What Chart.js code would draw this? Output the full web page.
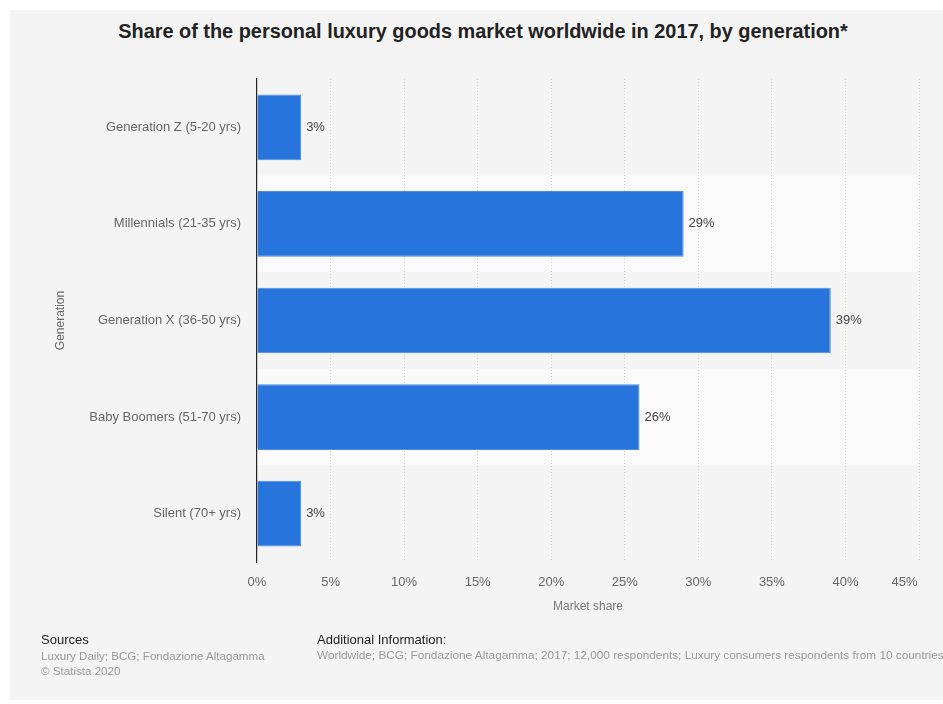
<!DOCTYPE html>
<html>
<head>
<meta charset="utf-8">
<script src="https://cdn.jsdelivr.net/npm/chart.js@4.4.0/dist/chart.umd.min.js"></script>
<style>
  body { margin: 0; background: #fff; font-family: "Liberation Sans", Arial, sans-serif; overflow: hidden; }
  #panel { position: absolute; left: 10px; top: 10px; width: 933px; height: 690px; background: #f4f4f4; }
  #wrap { position: absolute; left: 0; top: 0; width: 943px; height: 704px; }
  #title { position: absolute; left: 0; top: 20px; width: 966px; text-align: center; font-size: 19.9px; font-weight: bold; color: #222; white-space: nowrap; }
  .foot { position: absolute; white-space: nowrap; }
  .foot h4 { margin: 0; font-weight: normal; font-size: 13px; color: #222; line-height: 16px; }
  .foot p { margin: 0; font-size: 11.6px; color: #999; line-height: 15px; }
</style>
</head>
<body>
<div id="panel"></div>
<div id="title">Share of the personal luxury goods market worldwide in 2017, by generation*</div>
<div id="wrap"><canvas id="myChart" width="943" height="704"></canvas></div>
<div class="foot" style="left:41px; top:632px;">
  <h4>Sources</h4>
  <p>Luxury Daily; BCG; Fondazione Altagamma</p>
  <p>© Statista 2020</p>
</div>
<div class="foot" style="left:317px; top:632px;">
  <h4>Additional Information:</h4>
  <p style="font-size:11.8px">Worldwide; BCG; Fondazione Altagamma; 2017; 12,000 respondents; Luxury consumers respondents from 10 countries</p>
</div>
<script>
const generations = [
    'Generation Z (5-20 yrs)',
    'Millennials (21-35 yrs)',
    'Generation X (36-50 yrs)',
    'Baby Boomers (51-70 yrs)',
    'Silent (70+ yrs)'
];
const marketShare = [3, 29, 39, 26, 3];
const shareTicks = [0, 5, 10, 15, 20, 25, 30, 35, 40, 45];

const ctx = document.querySelector('#myChart');

// light stripes behind every second row
const rowBands = {
    id: 'rowBands',
    beforeDraw(chart) {
        const { ctx, chartArea, scales } = chart;
        const y = scales.y;
        ctx.save();
        ctx.fillStyle = '#fafafa';
        for (let i = 1; i < generations.length; i += 2) {
            const top = y.getPixelForValue(i - 0.5);
            const bottom = y.getPixelForValue(i + 0.5);
            ctx.fillRect(chartArea.left, top, chartArea.right - chartArea.left, bottom - top);
        }
        ctx.restore();
    }
};

// value labels at the end of each bar
const barLabels = {
    id: 'barLabels',
    afterDatasetsDraw(chart) {
        const { ctx } = chart;
        const meta = chart.getDatasetMeta(0);
        ctx.save();
        ctx.font = '13px "Liberation Sans", Arial, sans-serif';
        ctx.fillStyle = '#444';
        ctx.textAlign = 'left';
        ctx.textBaseline = 'middle';
        meta.data.forEach((bar, i) => {
            ctx.fillText(marketShare[i] + '%', bar.x + 5, bar.y);
        });
        ctx.restore();
    }
};

new Chart(ctx, {
    type: 'bar',
    data: {
        labels: generations,
        datasets: [{
            data: marketShare,
            backgroundColor: '#2775dc',
            borderColor: '#4a8ce2',
            borderWidth: 1,
            categoryPercentage: 1,
            barPercentage: 0.68
        }]
    },
    options: {
        indexAxis: 'y',
        responsive: false,
        animation: false,
        layout: { padding: { left: 10, top: 79, right: 24, bottom: 74 } },
        plugins: {
            legend: { display: false },
            tooltip: { enabled: false }
        },
        scales: {
            x: {
                min: 0,
                max: 45,
                afterBuildTicks(scale) {
                    scale.ticks = shareTicks.map(v => ({ value: v }));
                },
                afterFit(scale) {
                    scale.height = 68;
                    scale.paddingLeft = 0;
                    scale.paddingRight = 0;
                },
                ticks: {
                    color: '#666',
                    padding: 13,
                    font: { family: '"Liberation Sans", Arial, sans-serif', size: 13 },
                    // last label is pulled in a little from the edge
                    callback: v => v === shareTicks[shareTicks.length - 1]
                        ? v + '%' + '\u00a0'.repeat(8)
                        : v + '%'
                },
                grid: {
                    color: c => c.index === 0 ? 'rgba(0,0,0,0)' : '#d2d2d2',
                    drawTicks: false
                },
                border: { display: false, dash: [1, 2] },
                title: {
                    display: true,
                    text: 'Market share',
                    color: '#777',
                    font: { family: '"Liberation Sans", Arial, sans-serif', size: 12 },
                    padding: { top: 4, bottom: 16 }
                }
            },
            y: {
                afterFit(scale) { scale.width = 247; },
                ticks: {
                    color: '#666',
                    padding: 16,
                    font: { family: '"Liberation Sans", Arial, sans-serif', size: 13 }
                },
                grid: { display: false, drawTicks: false },
                border: { display: true, color: '#222', width: 1.2 },
                title: {
                    display: true,
                    text: 'Generation',
                    color: '#666',
                    font: { family: '"Liberation Sans", Arial, sans-serif', size: 12 },
                    padding: { top: 43, bottom: 0 }
                }
            }
        }
    },
    plugins: [rowBands, barLabels]
});
</script>
</body>
</html>
